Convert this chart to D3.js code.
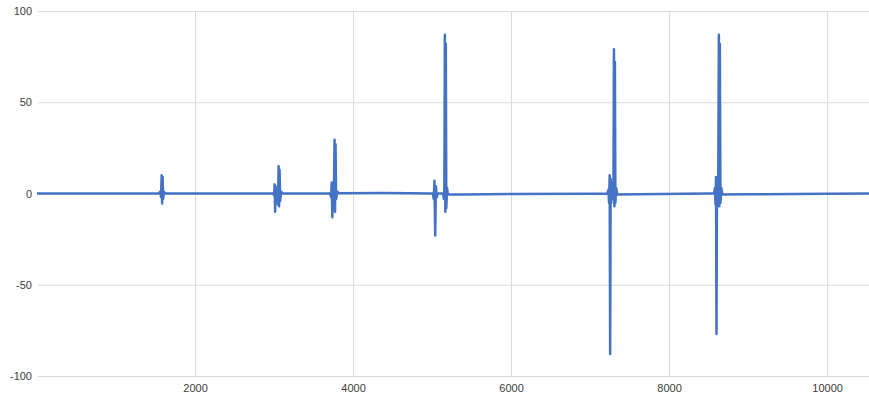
<!DOCTYPE html>
<html>
<head>
<meta charset="utf-8">
<script src="https://cdn.jsdelivr.net/npm/d3@7"></script>
<style>
  html, body { margin: 0; padding: 0; background: #fff; }
  svg { display: block; }
  .tick text { font-family: "Liberation Sans", Arial, sans-serif; font-size: 11px; fill: #404040; }
</style>
</head>
<body>
<svg id="chart" width="869" height="401"></svg>
<script>
// ---- data ----
const time = [
  0, 800, 1540,
  1560, 1570, 1578, 1584, 1590, 1596, 1604, 1620,
  2400, 2990,
  3000, 3008, 3014, 3020, 3028, 3040, 3050, 3058, 3064, 3070, 3078, 3090, 3110,
  3710,
  3722, 3730, 3738, 3746, 3756, 3766, 3772, 3778, 3786, 3800, 3820,
  4400, 5010,
  5022, 5030, 5040, 5048, 5060, 5070,
  5140, 5150, 5156, 5162, 5168, 5174, 5180, 5190, 5200,
  5400, 6000, 7000, 7220,
  7232, 7240, 7248, 7254, 7260, 7268, 7276, 7286, 7296, 7302, 7308, 7314, 7320, 7330, 7345,
  7600, 8500, 8570,
  8580, 8588, 8594, 8600, 8606, 8614, 8622, 8630, 8636, 8642, 8650, 8660, 8675,
  9000, 10000, 10530
];
const signal = [
  0, 0, 0,
  1, -2, 10, -5.5, 9, -3, 1, 0,
  0, 0,
  -1, 5, -10, 4, -3, 2, -6, 15, -7, 13, -4, 1, 0,
  0,
  -2, 6, -13, 5, -6, 29.5, -10, 27, -3, 1, 0.2,
  0.3, 0,
  -3, 7, -23, 4, -2, 0,
  0, -3, 4, 87, -10, 82, -8, 3, -0.6,
  -0.5, -0.3, -0.1, 0,
  2, -5, 10, -88, 8, -5, 6, -3, 2, 79, -7, 72, -5, 3, -0.5,
  -0.4, 0, 0,
  3, -6, 9, -77, 7, -4, 5, 87, -7, 82, -5, 3, -0.5,
  -0.4, -0.2, 0
];
const xTicks = [2000, 4000, 6000, 8000, 10000];
const yTicks = [-100, -50, 0, 50, 100];

// ---- chart ----
const svg = d3.select("#chart");
const W = 869;

const x = d3.scaleLinear().domain([0, 10530]).range([37, W]);
const y = d3.scaleLinear().domain([-100, 100]).range([376, 11]);

// horizontal grid + y labels
const yAxis = d3.axisLeft(y).tickValues(yTicks).tickSize(-(W - 38)).tickPadding(6).tickFormat(d => String(d));
svg.append("g").attr("transform", "translate(38,0)").call(yAxis)
  .call(g => g.select(".domain").remove())
  .call(g => g.selectAll(".tick line").attr("stroke", "#d9d9d9"));

// vertical grid + x labels
const xAxis = d3.axisBottom(x).tickValues(xTicks).tickSize(-(376 - 11)).tickPadding(8).tickFormat(d => String(d));
svg.append("g").attr("transform", "translate(0,376)").call(xAxis)
  .call(g => g.select(".domain").remove())
  .call(g => g.selectAll(".tick line").attr("stroke", "#d9d9d9"));

const pts = time.map((t, i) => [t, signal[i]]);
const line = d3.line().x(d => x(d[0])).y(d => y(d[1]));
svg.append("path")
  .datum(pts)
  .attr("d", line)
  .attr("fill", "none")
  .attr("stroke", "#4472C4")
  .attr("stroke-width", 2.5)
  .attr("stroke-linejoin", "round");
</script>
</body>
</html>
